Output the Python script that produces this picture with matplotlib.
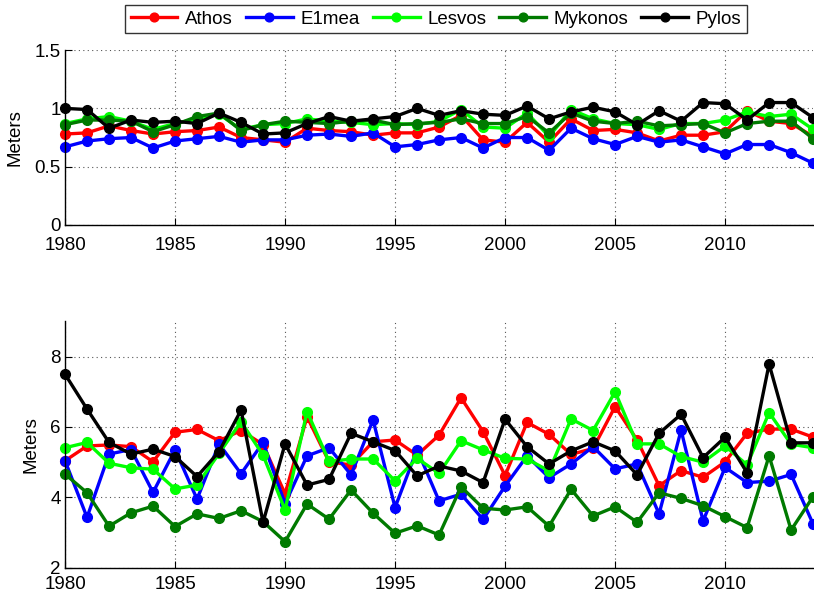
import numpy as np
import matplotlib.pyplot as plt
from matplotlib.ticker import FixedLocator

plt.rcParams['font.family'] = ['Liberation Sans', 'DejaVu Sans']

years = np.arange(1980, 2015)
names = ["Athos", "E1mea", "Lesvos", "Mykonos", "Pylos"]
colors = ["#ff0000", "#0000ff", "#00ff00", "#007a00", "#000000"]

# upper panel (Meters)
athos_top = [0.78, 0.79, 0.85, 0.81, 0.78, 0.80, 0.81, 0.84, 0.75, 0.73, 0.71,
             0.83, 0.81, 0.80, 0.77, 0.79, 0.79, 0.84, 0.94, 0.73, 0.71, 0.88,
             0.71, 0.91, 0.81, 0.82, 0.79, 0.72, 0.77, 0.77, 0.80, 0.98, 0.89,
             0.87, 0.76]
e1mea_top = [0.67, 0.72, 0.74, 0.75, 0.66, 0.72, 0.74, 0.76, 0.71, 0.73, 0.73,
             0.77, 0.78, 0.76, 0.79, 0.67, 0.69, 0.73, 0.75, 0.66, 0.75, 0.75,
             0.64, 0.83, 0.74, 0.69, 0.76, 0.71, 0.73, 0.67, 0.61, 0.69, 0.69,
             0.62, 0.53]
lesvos_top = [0.87, 0.91, 0.93, 0.89, 0.82, 0.87, 0.91, 0.95, 0.82, 0.86, 0.87,
              0.91, 0.89, 0.88, 0.86, 0.87, 0.86, 0.89, 0.99, 0.84, 0.83, 0.96,
              0.76, 0.99, 0.91, 0.87, 0.86, 0.82, 0.87, 0.87, 0.90, 0.97, 0.93,
              0.95, 0.82]
mykonos_top = [0.86, 0.90, 0.90, 0.89, 0.80, 0.86, 0.93, 0.96, 0.81, 0.86, 0.89,
               0.88, 0.87, 0.89, 0.90, 0.86, 0.87, 0.88, 0.91, 0.87, 0.87, 0.93,
               0.79, 0.96, 0.89, 0.87, 0.89, 0.85, 0.86, 0.87, 0.79, 0.87, 0.89,
               0.89, 0.74]
pylos_top = [1.00, 0.99, 0.83, 0.90, 0.88, 0.89, 0.87, 0.96, 0.88, 0.78, 0.79,
             0.87, 0.93, 0.89, 0.91, 0.93, 1.00, 0.94, 0.98, 0.95, 0.94, 1.02,
             0.91, 0.97, 1.01, 0.97, 0.86, 0.98, 0.89, 1.05, 1.04, 0.90, 1.05,
             1.05, 0.92]

# lower panel (Meters)
athos_bot = [5.04, 5.46, 5.49, 5.44, 5.01, 5.85, 5.93, 5.61, 5.90, 5.50, 4.10,
             6.29, 5.01, 4.92, 5.58, 5.63, 5.20, 5.77, 6.83, 5.87, 4.62, 6.13,
             5.79, 5.22, 5.39, 6.58, 5.63, 4.33, 4.76, 4.57, 5.01, 5.82, 5.94,
             5.94, 5.71]
e1mea_bot = [5.04, 3.43, 5.23, 5.36, 4.14, 5.35, 3.95, 5.52, 4.67, 5.56, 3.82,
             5.18, 5.41, 4.64, 6.20, 3.71, 5.36, 3.90, 4.09, 3.37, 4.32, 5.18,
             4.56, 4.95, 5.44, 4.81, 4.95, 3.53, 5.91, 3.33, 4.85, 4.42, 4.46,
             4.65, 3.24]
lesvos_bot = [5.41, 5.56, 4.97, 4.84, 4.80, 4.24, 4.35, 5.25, 6.15, 5.20, 3.64,
              6.44, 5.02, 5.09, 5.09, 4.47, 5.11, 4.68, 5.61, 5.35, 5.11, 5.09,
              4.75, 6.23, 5.90, 7.00, 5.52, 5.52, 5.16, 5.00, 5.46, 4.92, 6.41,
              5.51, 5.41]
mykonos_bot = [4.66, 4.13, 3.18, 3.56, 3.75, 3.17, 3.53, 3.40, 3.62, 3.31, 2.74,
               3.81, 3.38, 4.21, 3.55, 2.98, 3.19, 2.93, 4.30, 3.69, 3.64, 3.73,
               3.18, 4.23, 3.47, 3.73, 3.29, 4.13, 3.97, 3.76, 3.45, 3.14, 5.18,
               3.07, 4.02]
pylos_bot = [7.50, 6.51, 5.56, 5.23, 5.37, 5.16, 4.59, 5.30, 6.48, 3.29, 5.52,
             4.35, 4.51, 5.82, 5.58, 5.33, 4.61, 4.89, 4.75, 4.42, 6.22, 5.44,
             4.95, 5.32, 5.58, 5.32, 4.64, 5.82, 6.36, 5.13, 5.71, 4.70, 7.79,
             5.55, 5.55]

top_series = [athos_top, e1mea_top, lesvos_top, mykonos_top, pylos_top]
bot_series = [athos_bot, e1mea_bot, lesvos_bot, mykonos_bot, pylos_bot]

FS = 13.5

fig = plt.figure(figsize=(8.14, 5.99), dpi=100)
ax1 = fig.add_axes([0.0799, 0.6244, 0.919, 0.292])
ax2 = fig.add_axes([0.0799, 0.0523, 0.919, 0.411])


def style_axis(ax, yticks, ylim, ylabels, xpad):
    ax.set_xlim(1980, 2014)
    ax.set_ylim(*ylim)
    ax.xaxis.set_major_locator(FixedLocator(np.arange(1980, 2011, 5)))
    ax.set_yticks(yticks)
    ax.set_yticklabels(ylabels)
    ax.grid(True, linestyle=(0, (1, 3)), color="#555555", linewidth=0.8)
    ax.set_axisbelow(True)
    for side in ("top", "right"):
        ax.spines[side].set_visible(False)
    for side in ("left", "bottom"):
        ax.spines[side].set_linewidth(1.0)
    ax.tick_params(direction="in", length=5, labelsize=FS)
    ax.tick_params(axis="y", pad=3)
    ax.tick_params(axis="x", pad=xpad)
    ax.set_ylabel("Meters", fontsize=FS, labelpad=8)


lines = []
for vals, name, c in zip(top_series, names, colors):
    ln, = ax1.plot(years, vals, "-o", color=c, lw=2.4, ms=7, label=name,
                   clip_on=False)
    lines.append(ln)
for vals, c in zip(bot_series, colors):
    ax2.plot(years, vals, "-o", color=c, lw=2.4, ms=7, clip_on=False)

style_axis(ax1, [0, 0.5, 1, 1.5], (0, 1.5), ["0", "0.5", "1", "1.5"], 9)
style_axis(ax2, [2, 4, 6, 8], (2, 9), ["2", "4", "6", "8"], 6)

leg = fig.legend(handles=lines, loc="upper center", ncol=5,
                 bbox_to_anchor=(0.5356, 0.992), fontsize=FS, frameon=True,
                 fancybox=False, edgecolor="black", handlelength=2.5,
                 handletextpad=0.4, columnspacing=0.7, borderpad=0.3,
                 borderaxespad=0.0, markerscale=0.9)
leg.get_frame().set_linewidth(1.0)

fig.savefig("out.png", dpi=100)
plt.close(fig)
